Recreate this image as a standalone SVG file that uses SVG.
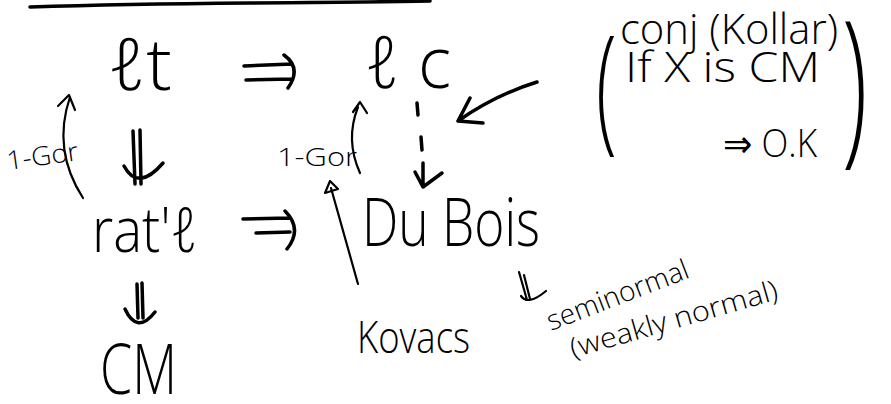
<svg xmlns="http://www.w3.org/2000/svg" width="891" height="404" viewBox="0 0 891 404">
<style>
text{font-family:"Open Sans","DejaVu Sans",sans-serif;font-weight:300;fill:#000}
.ln{fill:none;stroke:#000;stroke-width:3.5;stroke-linecap:round;stroke-linejoin:round}
.thin{fill:none;stroke:#000;stroke-width:2.2;stroke-linecap:round;stroke-linejoin:round}
</style>
<rect width="891" height="404" fill="#fff"/>
<path class="ln" d="M30,7 Q120,4 250,3 T430,1" stroke-width="4"/>

<g id="lt"><text x="108" y="90" font-size="72" textLength="64" lengthAdjust="spacingAndGlyphs">ℓt</text></g>
<g id="lc"><text x="365" y="88" font-size="72" textLength="86" lengthAdjust="spacingAndGlyphs">ℓ c</text></g>
<g id="ratl"><text x="92" y="252" font-size="62" textLength="106" lengthAdjust="spacingAndGlyphs">rat'ℓ</text></g>
<g id="duBois"><text x="362" y="246" font-size="66" textLength="178" lengthAdjust="spacingAndGlyphs">Du Bois</text></g>
<g id="CM"><text x="100" y="394" font-size="70" textLength="77" lengthAdjust="spacingAndGlyphs">CM</text></g>
<g id="kovacs"><text x="357" y="353" font-size="44" textLength="113" lengthAdjust="spacingAndGlyphs">Kovacs</text></g>
<g id="conj">
<text x="620" y="44" font-size="42" textLength="218" lengthAdjust="spacingAndGlyphs">conj (Kollar)</text>
<text x="596" y="135" font-size="138" transform="translate(596 135) scale(0.55 1) translate(-596 -135)">(</text>
<text x="625" y="82" font-size="42" textLength="195" lengthAdjust="spacingAndGlyphs">If X is CM</text>
<text x="723" y="157" font-size="38" textLength="94" lengthAdjust="spacingAndGlyphs">⇒ O.K</text>
<text x="842" y="143" font-size="170" transform="translate(842 143) scale(0.55 1) translate(-842 -143)">)</text>
</g>
<g id="gor1"><text x="8" y="170" font-size="26" textLength="72" lengthAdjust="spacingAndGlyphs" transform="rotate(-8 8 170)">1-Gor</text></g>
<g id="gor2"><text x="277" y="166" font-size="26" textLength="80" lengthAdjust="spacingAndGlyphs">1-Gor</text></g>
<g id="seminormal">
<text x="551" y="331" font-size="28" textLength="150" lengthAdjust="spacingAndGlyphs" transform="rotate(-21 551 331)">seminormal</text>
<text x="573" y="358" font-size="28" textLength="215" lengthAdjust="spacingAndGlyphs" transform="rotate(-16 573 358)">(weakly normal)</text>
</g>

<g id="connectors">
<path class="ln" d="M244,66 L292,64 M246,80 L292,79 M284,55 Q302,68 288,88"/>
<path class="ln" d="M133,131 L135,184 M140,130 L141,184 M124,166 Q138,192 163,163"/>
<path class="ln" d="M243,219 L290,218 M256,233 L290,232 M285,211 Q303,229 287,249"/>
<path class="ln" d="M137,284 L138,318 M142,283 L143,318 M125,309 Q137,335 155,312"/>
<path class="thin" d="M519,272 L527,300 M524,275 L530,299 M521,296 Q528,306 546,291"/>
<path class="thin" d="M83,198 Q52,150 70,97 M58,106 L69,95 L75,110"/>
<path class="thin" d="M360,173 Q345,140 358,107 M353,112 L360,102 L367,113"/>
<path class="thin" d="M358,284 L331,188" stroke-width="1.8"/>
<polygon class="thin" points="330,181 325,193 338,189" stroke-width="2"/>
<path class="ln" d="M417,103 L418,115 M421,137 L422,150 M423,163 L423,186 M415,172 L423,187 L442,173" stroke-width="3"/>
<path class="ln" d="M537,82 Q495,95 458,121 M470,98 L458,121 L483,123" stroke-width="3"/>
</g>
</svg>
